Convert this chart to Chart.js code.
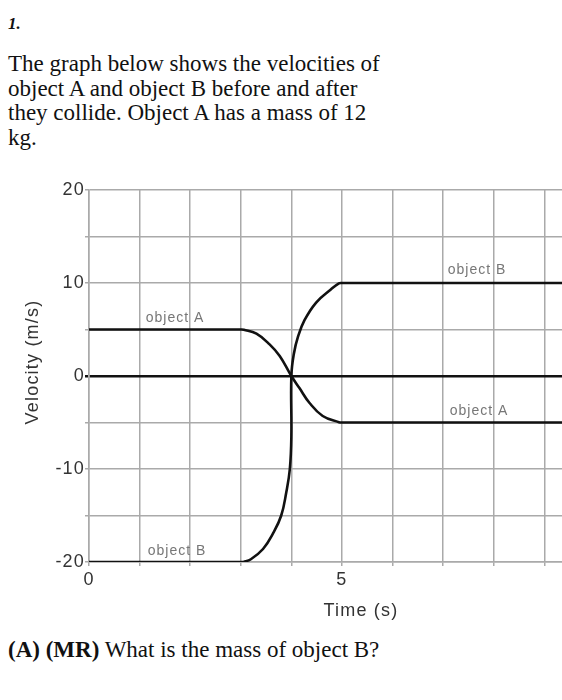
<!DOCTYPE html>
<html>
<head>
<meta charset="utf-8">
<script src="https://cdn.jsdelivr.net/npm/chart.js@4/dist/chart.umd.min.js"></script>
<style>
  html, body { margin: 0; padding: 0; background: #fff; }
  body { width: 562px; height: 700px; position: relative; overflow: hidden; }
  .serif { font-family: "Liberation Serif", "Times New Roman", serif; color: #111; position: absolute; left: 8px; }
  #num { top: 16px; font-size: 17px; line-height: 15px; font-weight: bold; font-style: italic; }
  #intro { top: 52px; font-size: 23px; line-height: 24.5px; }
  #question { top: 638px; font-size: 23px; line-height: 24.5px; white-space: nowrap; }
  #wrap { position: absolute; left: 0; top: 178px; width: 562px; height: 452px; }
</style>
</head>
<body>
<div id="num" class="serif">1.</div>
<div id="intro" class="serif">The graph below shows the velocities of<br>object A and object B before and after<br>they collide. Object A has a mass of 12<br>kg.</div>
<div id="wrap"><canvas id="vChart"></canvas></div>
<div id="question" class="serif"><b>(A) (MR)</b> What is the mass of object B?</div>
<script>
// values (time in s, velocity in m/s)
const timeA = [0, 2.8, 3, 3.06, 3.31, 3.57, 3.77, 4, 4.16, 4.36, 4.62, 4.94, 5, 5.2, 9.4];
const velA  = [5, 5, 5, 4.97, 4.55, 3.4, 2.15, 0, -1.3, -2.9, -4.3, -4.97, -5, -5, -5];

const timeB = [0, 2.8, 3, 3.06, 3.2, 3.44, 3.64, 3.8, 3.9, 3.97, 4, 4, 4.05, 4.13, 4.26, 4.49, 4.78, 4.94, 5, 5.2, 9.4];
const velB  = [-20, -20, -20, -19.97, -19.7, -18.6, -16.9, -15, -12.5, -10, -6.5, 0, 2.4, 4.2, 6, 7.9, 9.3, 9.96, 10, 10, 10];

const timeTickLabels = [0, 5];
const velTickLabels = [-20, -10, 0, 10, 20];

const curveNames = ["object A", "object B", "object A", "object B"];
const curveNameT = [1.7, 7.67, 7.71, 1.74];
const curveNameV = [6.2, 11.4, -3.8, -18.8];

const toPoints = (ts, vs) => ts.map((t, i) => ({ x: t, y: vs[i] }));

const curveLabelPlugin = {
    id: "curveLabels",
    beforeDraw(chart) {
        chart.ctx.letterSpacing = "1.2px";
    },
    afterDatasetsDraw(chart) {
        const { ctx, scales } = chart;
        ctx.save();
        ctx.letterSpacing = "1px";
        ctx.font = "14px 'Liberation Sans', Arial, sans-serif";
        ctx.fillStyle = "#777";
        ctx.textAlign = "center";
        ctx.textBaseline = "middle";
        curveNames.forEach((name, i) => {
            ctx.fillText(name, scales.x.getPixelForValue(curveNameT[i]), scales.y.getPixelForValue(curveNameV[i]));
        });
        ctx.restore();
    },
    afterDraw(chart) {
        const { ctx, chartArea } = chart;
        ctx.save();
        ctx.letterSpacing = "1.2px";
        ctx.font = "18px 'Liberation Sans', Arial, sans-serif";
        ctx.fillStyle = "#333";
        ctx.textAlign = "center";
        ctx.textBaseline = "middle";
        ctx.fillText("Time (s)", chartArea.left + 272, chartArea.bottom + 49);
        ctx.translate(chartArea.left - 56, chartArea.top + 172);
        ctx.rotate(-Math.PI / 2);
        ctx.fillText("Velocity (m/s)", 0, 0);
        ctx.restore();
    }
};

const gridColor = "#aaaaaa";

new Chart(document.getElementById("vChart"), {
    type: "line",
    data: {
        datasets: [{
            label: "object A",
            data: toPoints(timeA, velA),
            borderColor: "#111",
            borderWidth: 2.6,
            pointRadius: 0,
            tension: 0.42
        }, {
            label: "object B",
            data: toPoints(timeB, velB),
            borderColor: "#111",
            borderWidth: 2.6,
            pointRadius: 0,
            tension: 0.42
        }]
    },
    options: {
        responsive: true,
        maintainAspectRatio: false,
        animation: false,
        layout: { padding: { top: 12, left: 0, right: 0, bottom: 0 } },
        plugins: {
            legend: { display: false },
            tooltip: { enabled: false }
        },
        scales: {
            x: {
                type: "linear",
                min: 0,
                max: 9.35,
                afterFit: s => { s.height = 68; },
                border: { color: gridColor, width: 1.5 },
                grid: { color: gridColor, lineWidth: 1.5, tickLength: 4 },
                ticks: {
                    stepSize: 1,
                    includeBounds: false,
                    autoSkip: false,
                    maxRotation: 0,
                    padding: 3,
                    color: "#333",
                    font: { family: "'Liberation Sans', Arial, sans-serif", size: 18 },
                    callback: v => timeTickLabels.includes(v) ? v : ""
                }
            },
            y: {
                min: -20,
                max: 20,
                afterFit: s => { s.width = 89; },
                border: { color: gridColor, width: 1.5 },
                grid: {
                    color: c => c.tick && c.tick.value === 0 ? "#111" : gridColor,
                    lineWidth: c => c.tick && c.tick.value === 0 ? 2.5 : 1.5,
                    tickLength: 4
                },
                ticks: {
                    stepSize: 5,
                    padding: 0,
                    color: "#333",
                    font: { family: "'Liberation Sans', Arial, sans-serif", size: 18 },
                    callback: v => velTickLabels.includes(v) ? v : ""
                }
            }
        }
    },
    plugins: [curveLabelPlugin]
});
</script>
</body>
</html>
